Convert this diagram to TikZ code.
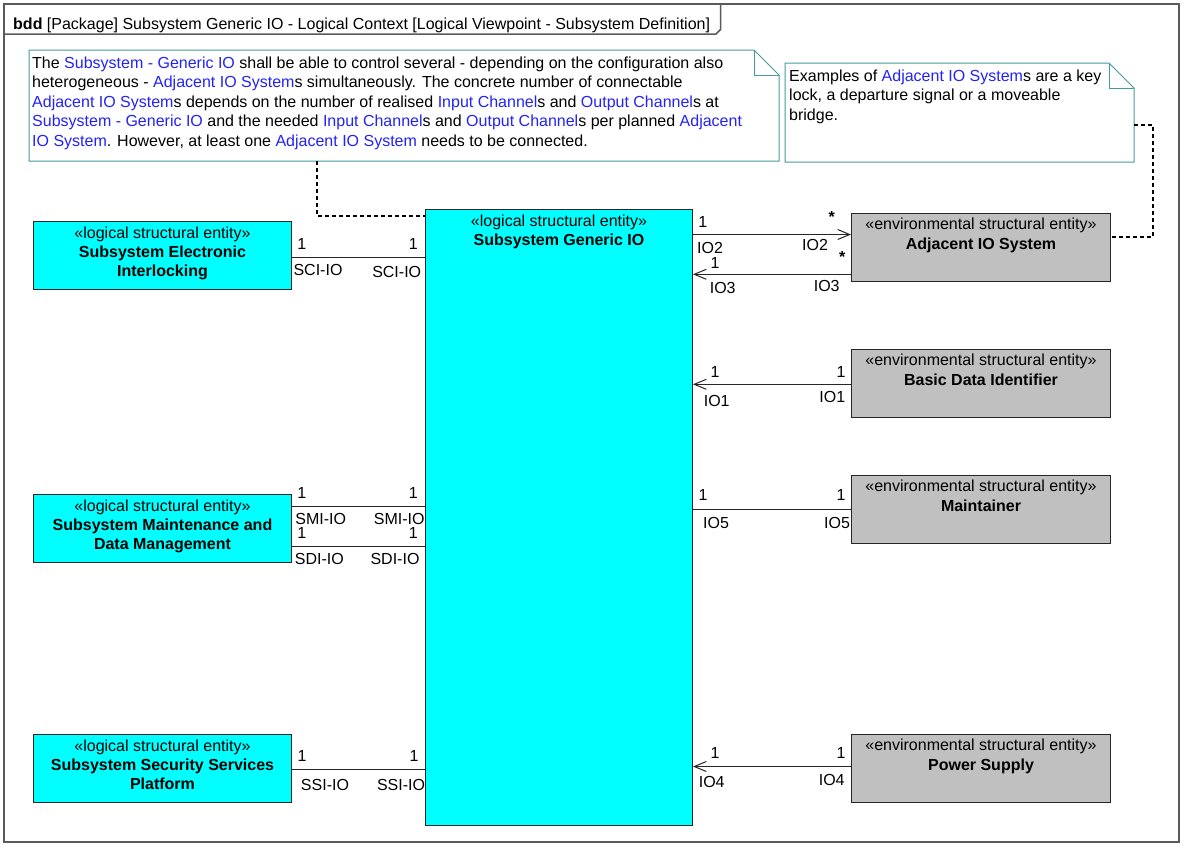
\documentclass[tikz,border=0pt]{standalone}
\usepackage{fontspec}
\setmainfont{Liberation Sans}
\usetikzlibrary{arrows.meta}
\definecolor{linkblue}{RGB}{35,35,245}
\definecolor{noteline}{RGB}{70,155,155}
\definecolor{blockcyan}{RGB}{0,255,255}
\definecolor{blockgray}{RGB}{192,192,192}
\definecolor{framegray}{RGB}{90,90,90}
\newcommand\lnk[1]{\textcolor{linkblue}{#1}}
\begin{document}
\begin{tikzpicture}[x=1pt,y=-1pt,
  blockshape/.style={draw=black!85, line width=1pt, anchor=north west, inner sep=0pt, minimum height=68pt, minimum width=258pt},
  cyanblock/.style={blockshape, fill=blockcyan},
  grayblock/.style={blockshape, fill=blockgray, minimum width=259pt},
  blocktext/.style={anchor=north, inner sep=0pt, align=center, font=\fontsize{16}{19.3}\selectfont},
  notetext/.style={anchor=north west, inner sep=0pt, align=left, font=\fontsize{16}{19.5}\selectfont},
  lbl/.style={inner sep=0pt, font=\fontsize{16}{19}\selectfont},
  assoc/.style={draw=black!85, line width=1pt},
  navi/.style={assoc, -{Straight Barb[length=12pt,width=10pt,line width=1pt]}},
  anchorline/.style={line width=1.6pt, dash pattern=on 4pt off 3pt, draw=black},
  noteshape/.style={draw=noteline, line width=1pt, line join=miter},
]
\useasboundingbox (0,0) rectangle (1186,849);
\fill[white] (0,0) rectangle (1186,849);

% frame and header tab
\draw[framegray, line width=2pt] (4,4) rectangle (1179,842);
\draw[framegray, line width=1.5pt] (4,34) -- (716,34) -- (720.5,29.5) -- (720.5,4);
\node[lbl, anchor=base west] (hdr) at (13,29) {\textbf{bdd} [Package] Subsystem Generic IO - Logical Context [Logical Viewpoint - Subsystem Definition]};

% notes
\draw[noteshape, fill=white] (29,50) -- (754,50) -- (779,75) -- (779,161) -- (29,161) -- cycle;
\draw[noteshape] (754,50) -- (754,75) -- (779,75);
\node[notetext] (note1) at (32,54.5) {\strut The \lnk{Subsystem - Generic IO} shall be able to control several - depending on the configuration also\\
heterogeneous - \lnk{Adjacent IO System}s simultaneously. The concrete number of connectable\\
\lnk{Adjacent IO System}s depends on the number of realised \lnk{Input Channel}s and \lnk{Output Channel}s at\\
\lnk{Subsystem - Generic IO} and the needed \lnk{Input Channel}s and \lnk{Output Channel}s per planned \lnk{Adjacent}\\
\lnk{IO System}. However, at least one \lnk{Adjacent IO System} needs to be connected.};

\draw[noteshape, fill=white] (785,63) -- (1109,63) -- (1134,88) -- (1134,162) -- (785,162) -- cycle;
\draw[noteshape] (1109,63) -- (1109,88) -- (1134,88);
\node[notetext] (note2) at (789,67.5) {\strut Examples of \lnk{Adjacent IO System}s are a key\\
lock, a departure signal or a moveable\\
bridge.};

\coordinate (n1b) at (317,161);
\coordinate (n2r) at (1134,125);

% blocks
\node[cyanblock] (sei) at (33,221) {};
\node[cyanblock, minimum width=267pt, minimum height=616pt] (gio) at (425,209) {};
\node[cyanblock] (smd) at (33,494) {};
\node[cyanblock] (ssp) at (33,734) {};
\node[grayblock] (aio) at (851,213) {};
\node[grayblock] (bdi) at (851,349) {};
\node[grayblock] (mnt) at (851,475) {};
\node[grayblock] (psu) at (851,734) {};

\node[blocktext] (seit) at ([yshift=-3.5pt]sei.north) {\strut«logical structural entity»\\\textbf{Subsystem Electronic}\\\textbf{Interlocking}};
\node[blocktext] (giot) at ([yshift=-3.5pt]gio.north) {\strut«logical structural entity»\\\textbf{Subsystem Generic IO}};
\node[blocktext] (smdt) at ([yshift=-3.5pt]smd.north) {\strut«logical structural entity»\\\textbf{Subsystem Maintenance and}\\\textbf{Data Management}};
\node[blocktext] (sspt) at ([yshift=-3.5pt]ssp.north) {\strut«logical structural entity»\\\textbf{Subsystem Security Services}\\\textbf{Platform}};
\node[blocktext] (aiot) at ([yshift=-3pt]aio.north) {\strut«environmental structural entity»\\\textbf{Adjacent IO System}};
\node[blocktext] (bdit) at ([yshift=-3pt]bdi.north) {\strut«environmental structural entity»\\\textbf{Basic Data Identifier}};
\node[blocktext] (mntt) at ([yshift=-3pt]mnt.north) {\strut«environmental structural entity»\\\textbf{Maintainer}};
\node[blocktext] (pst) at ([yshift=-3pt]psu.north) {\strut«environmental structural entity»\\\textbf{Power Supply}};

% anchor (dashed) lines
\draw[anchorline] (n1b) |- ([yshift=-7pt]gio.north west);
\draw[anchorline] (n2r) -- ++(19,0) |- ([yshift=-24pt]aio.north east);

% associations left
\draw[assoc] (sei.east |- 0,257) -- (gio.west |- 0,257);
\node[lbl] (sci1a) at (301.7,244) {1};
\node[lbl] (sci1b) at (413.3,244) {1};
\node[lbl] (scia) at (318,269.5) {SCI-IO};
\node[lbl] (scib) at (396.7,271.7) {SCI-IO};

\draw[assoc] (smd.east |- 0,506) -- (gio.west |- 0,506);
\node[lbl] (smi1a) at (301.7,493.3) {1};
\node[lbl] (smi1b) at (413.3,493.3) {1};
\node[lbl] (smia) at (320.7,519.3) {SMI-IO};
\node[lbl] (smib) at (399.3,519.3) {SMI-IO};

\draw[assoc] (smd.east |- 0,546) -- (gio.west |- 0,546);
\node[lbl] (sdi1a) at (301.7,533.3) {1};
\node[lbl] (sdi1b) at (413.3,533.3) {1};
\node[lbl] (sdia) at (319.3,559) {SDI-IO};
\node[lbl] (sdib) at (395,559) {SDI-IO};

\draw[assoc] (ssp.east |- 0,769) -- (gio.west |- 0,769);
\node[lbl] (ssi1a) at (302,756) {1};
\node[lbl] (ssi1b) at (414,756) {1};
\node[lbl] (ssia) at (325,785) {SSI-IO};
\node[lbl] (ssib) at (401,785) {SSI-IO};

% associations right
\draw[navi] (gio.east |- 0,234.5) -- (aio.west |- 0,234.5);
\node[lbl] (io2m1) at (702.7,221.7) {1};
\node[lbl] (io2m2) at (831.7,217.3) {\textbf{*}};
\node[lbl] (io2a) at (710,247.8) {IO2};
\node[lbl] (io2b) at (815,245) {IO2};

\draw[navi] (aio.west |- 0,274.3) -- (gio.east |- 0,274.3);
\node[lbl] (io3m1) at (715,262.5) {1};
\node[lbl] (io3m2) at (842.3,257.3) {\textbf{*}};
\node[lbl] (io3a) at (722.7,288.3) {IO3};
\node[lbl] (io3b) at (826.7,286) {IO3};

\draw[navi] (bdi.west |- 0,384.3) -- (gio.east |- 0,384.3);
\node[lbl] (io1m1) at (715,371.7) {1};
\node[lbl] (io1m2) at (841,371.7) {1};
\node[lbl] (io1a) at (716.7,400.7) {IO1};
\node[lbl] (io1b) at (832.3,397.3) {IO1};

\draw[assoc] (gio.east |- 0,509) -- (mnt.west |- 0,509);
\node[lbl] (io5m1) at (703,495) {1};
\node[lbl] (io5m2) at (841,495) {1};
\node[lbl] (io5a) at (716,523) {IO5};
\node[lbl] (io5b) at (837,523) {IO5};

\draw[navi] (psu.west |- 0,766.5) -- (gio.east |- 0,766.5);
\node[lbl] (io4m1) at (715,753.3) {1};
\node[lbl] (io4m2) at (841,753.3) {1};
\node[lbl] (io4a) at (711.7,782.3) {IO4};
\node[lbl] (io4b) at (831.7,780) {IO4};
\end{tikzpicture}
\end{document}
